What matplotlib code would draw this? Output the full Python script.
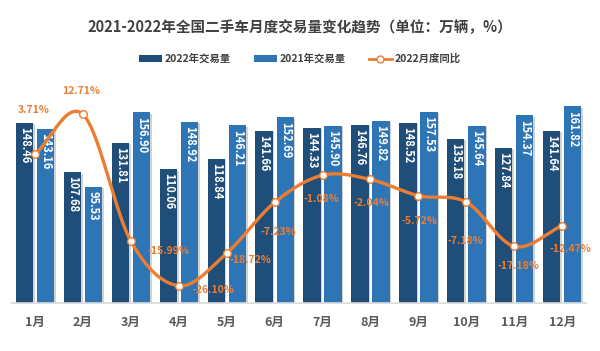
import numpy as np
import matplotlib
matplotlib.use('Agg')
import matplotlib.pyplot as plt
import matplotlib.patheffects as pe
from matplotlib.patches import Patch
from matplotlib.lines import Line2D

plt.rcParams['font.family'] = ['Noto Sans CJK SC', 'DejaVu Sans']

# data
months = ['1月', '2月', '3月', '4月', '5月', '6月', '7月', '8月', '9月', '10月', '11月', '12月']
vol_2022 = [148.46, 107.68, 131.81, 110.06, 118.84, 141.66, 144.33, 146.76, 148.52, 135.18, 127.84, 141.64]
vol_2021 = [143.16, 95.53, 156.90, 148.92, 146.21, 152.69, 145.90, 149.82, 157.53, 145.64, 154.37, 161.82]
yoy_2022 = [3.71, 12.71, -15.99, -26.10, -18.72, -7.23, -1.08, -2.04, -5.72, -7.18, -17.18, -12.47]

# label offsets for the percentage labels (points)
pct_offsets = [(-1, 32), (-1, 17), (27, -7), (25, -3), (17, -5), (3, -21),
               (-1, -17), (1, -17), (1, -18), (-1, -28), (3, -14), (6, -17)]

DARK = '#1F4E79'
LIGHT = '#2E75B6'
ORANGE = '#ED7D31'
TEXT = '#404040'


def smooth(xs, ys, n=30):
    """Catmull-Rom curve through the points, like a smoothed office line."""
    xs = np.asarray(xs, float)
    ys = np.asarray(ys, float)
    m = np.zeros_like(ys)
    m[1:-1] = (ys[2:] - ys[:-2]) / 2
    m[0] = ys[1] - ys[0]
    m[-1] = ys[-1] - ys[-2]
    out_x, out_y = [], []
    for i in range(len(xs) - 1):
        t = np.linspace(0, 1, n)
        h00 = 2 * t**3 - 3 * t**2 + 1
        h10 = t**3 - 2 * t**2 + t
        h01 = -2 * t**3 + 3 * t**2
        h11 = t**3 - t**2
        out_y.append(h00 * ys[i] + h10 * m[i] + h01 * ys[i + 1] + h11 * m[i + 1])
        out_x.append(xs[i] + t * (xs[i + 1] - xs[i]))
    return np.concatenate(out_x), np.concatenate(out_y)


fig = plt.figure(figsize=(6, 3.51), dpi=100)
ax = fig.add_axes([0.0183, 0.1368, 0.9587, 0.6922])
ax2 = ax.twinx()

x = np.arange(len(months))
w = 0.36
shadow = [pe.SimplePatchShadow(offset=(1.2, -1.0), shadow_rgbFace='#808080', alpha=0.35), pe.Normal()]
b1 = ax.bar(x - 0.22, vol_2022, w, color=DARK, zorder=2)
b2 = ax.bar(x + 0.22, vol_2021, w, color=LIGHT, zorder=2)
for b in list(b1) + list(b2):
    b.set_path_effects(shadow)

for xi, v in zip(x, vol_2022):
    ax.annotate(f'{v:.2f}', (xi - 0.22, v), xytext=(0, -3), textcoords='offset points',
                rotation=-90, ha='center', va='top', color='white', fontsize=8,
                fontweight='bold', zorder=3)
for xi, v in zip(x, vol_2021):
    ax.annotate(f'{v:.2f}', (xi + 0.22, v), xytext=(0, -3), textcoords='offset points',
                rotation=-90, ha='center', va='top', color='white', fontsize=8,
                fontweight='bold', zorder=3)

ax.set_xlim(-0.5, 11.5)
ax.set_ylim(0, 200)
ax.set_yticks([])
ax.set_xticks(x)
ax.set_xticklabels(months, fontsize=9, fontweight='bold', color='#595959')
ax.tick_params(axis='x', length=0, pad=9)
for s in ['top', 'left', 'right']:
    ax.spines[s].set_visible(False)
ax.spines['bottom'].set_color('#D9D9D9')
ax.spines['bottom'].set_linewidth(1.2)

sx, sy = smooth(x, yoy_2022)
ax2.plot(sx, sy, color=ORANGE, lw=2.4, zorder=4, solid_capstyle='round')
ax2.plot(x, yoy_2022, 'o', ms=5.5, mfc='white', mec=ORANGE, mew=1.0, zorder=5)
for xi, v, off in zip(x, yoy_2022, pct_offsets):
    ax2.annotate(f'{v:.2f}%', (xi, v), xytext=off, textcoords='offset points',
                 ha='center', va='center', color=ORANGE, fontsize=7.5,
                 fontweight='bold', zorder=6)
ax2.set_ylim(-30, 25)
ax2.set_yticks([])
for s in ['top', 'left', 'right', 'bottom']:
    ax2.spines[s].set_visible(False)

fig.text(0.5, 0.923, '2021-2022年全国二手车月度交易量变化趋势（单位：万辆，%）',
         ha='center', va='center', fontsize=10.5, fontweight='bold', color=TEXT)

handles = [Patch(facecolor=DARK), Patch(facecolor=LIGHT),
           Line2D([], [], color=ORANGE, lw=2, marker='o', ms=5, mfc='white', mec=ORANGE)]
fig.legend(handles, ['2022年交易量', '2021年交易量', '2022月度同比'], loc='center',
           bbox_to_anchor=(0.5, 0.832), ncol=3, frameon=False,
           handlelength=2.2, handleheight=0.6, handletextpad=0.3, columnspacing=2.2,
           labelcolor=TEXT, prop={'weight': 'bold', 'size': 7.5})

fig.savefig('out.png', dpi=100)
